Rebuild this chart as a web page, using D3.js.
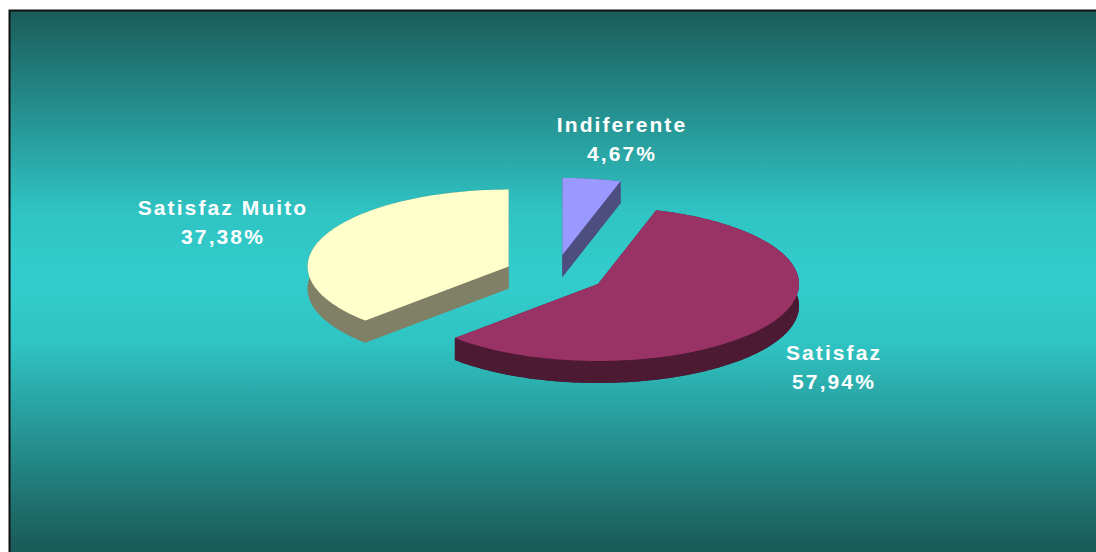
<!DOCTYPE html>
<html>
<head>
<meta charset="utf-8">
<script src="https://cdn.jsdelivr.net/npm/d3@7"></script>
<style>
  html, body { margin: 0; padding: 0; background: #fff; }
  svg { display: block; }
  text { font-family: "Liberation Sans", Arial, sans-serif; font-weight: bold; fill: #fff; }
</style>
</head>
<body>
<div class="wrapper"></div>
<script>
// slices in the order the pie is drawn (clockwise from 12 o'clock)
const categories = ['Indiferente', 'Satisfaz', 'Satisfaz Muito']
const values = [4.67, 57.94, 37.38]
const valueLabels = ['4,67%', '57,94%', '37,38%']

const topColors = ['#9999ff', '#993366', '#ffffcc']
const sideColors = ['#4d4d80', '#4d1a33', '#808066']

const width = 1096, height = 552
const cx = 555, cy = 274, rx = 201, ry = 77, depth = 22, explode = 0.25

// label centres (line 1 baseline)
const labelPos = [[622, 132], [834, 360], [223, 215]]

const svg = d3.select('.wrapper')
  .append('svg')
  .attr('width', width)
  .attr('height', height)

const defs = svg.append('defs')
const grad = defs.append('linearGradient')
  .attr('id', 'bg')
  .attr('gradientUnits', 'userSpaceOnUse')
  .attr('x1', 0).attr('y1', 10).attr('x2', 0).attr('y2', 545)
grad.append('stop').attr('offset', '0%').attr('stop-color', '#1a5c5a')
grad.append('stop').attr('offset', '38%').attr('stop-color', '#30c4c4')
grad.append('stop').attr('offset', '50%').attr('stop-color', '#33cccc')
grad.append('stop').attr('offset', '62%').attr('stop-color', '#30c4c4')
grad.append('stop').attr('offset', '100%').attr('stop-color', '#1a5c5a')

svg.append('rect')
  .attr('x', 9.5).attr('y', 10.5)
  .attr('width', width + 10).attr('height', height)
  .attr('fill', 'url(#bg)')
  .attr('stroke', '#111')
  .attr('stroke-width', 2)

const pie = d3.pie().sort(null).value(d => d).startAngle(0).endAngle(2 * Math.PI)
const arcs = pie(values)

// projection of an angle (clockwise from top) onto the tilted ellipse
const sx = d3.scaleLinear().domain([-1, 1]).range([-rx, rx])
const sy = d3.scaleLinear().domain([-1, 1]).range([ry, -ry])
const line = d3.line()

function pt(o, a, r) {
  return [o[0] + sx(r * Math.sin(a)), o[1] + sy(r * Math.cos(a))]
}

function arcPts(o, a0, a1, dz) {
  const n = Math.max(2, Math.ceil((a1 - a0) / 0.02))
  return d3.range(n + 1).map(i => {
    const p = pt(o, a0 + (a1 - a0) * i / n, 1)
    return [p[0], p[1] + dz]
  })
}

const slices = arcs.map((d, i) => {
  const mid = (d.startAngle + d.endAngle) / 2
  const o = pt([cx, cy], mid, explode)
  return { d, i, o }
}).sort((a, b) => a.o[1] - b.o[1])

const g = svg.append('g')

slices.forEach(s => {
  const { d, i, o } = s
  const a0 = d.startAngle, a1 = d.endAngle
  const sg = g.append('g')
  const ob = [o[0], o[1] + depth]

  // bottom face
  sg.append('path')
    .attr('d', line([ob].concat(arcPts(o, a0, a1, depth))) + 'Z')
    .attr('fill', sideColors[i])
  // radial walls
  ;[a0, a1].forEach(a => {
    const p = pt(o, a, 1)
    sg.append('path')
      .attr('d', line([o, p, [p[0], p[1] + depth], ob]) + 'Z')
      .attr('fill', sideColors[i])
  })
  // outer wall
  sg.append('path')
    .attr('d', line(arcPts(o, a0, a1, 0).concat(arcPts(o, a0, a1, depth).reverse())) + 'Z')
    .attr('fill', sideColors[i])
  // top face
  sg.append('path')
    .attr('d', line([o].concat(arcPts(o, a0, a1, 0))) + 'Z')
    .attr('fill', topColors[i])
})

// labels
const labels = svg.append('g')
categories.forEach((c, i) => {
  const t = labels.append('text')
    .attr('x', labelPos[i][0])
    .attr('y', labelPos[i][1])
    .attr('text-anchor', 'middle')
    .style('font-size', '21px')
    .style('letter-spacing', '2.1px')
  t.append('tspan').attr('x', labelPos[i][0]).text(c)
  t.append('tspan').attr('x', labelPos[i][0]).attr('dy', 29).text(valueLabels[i])
})
</script>
</body>
</html>
